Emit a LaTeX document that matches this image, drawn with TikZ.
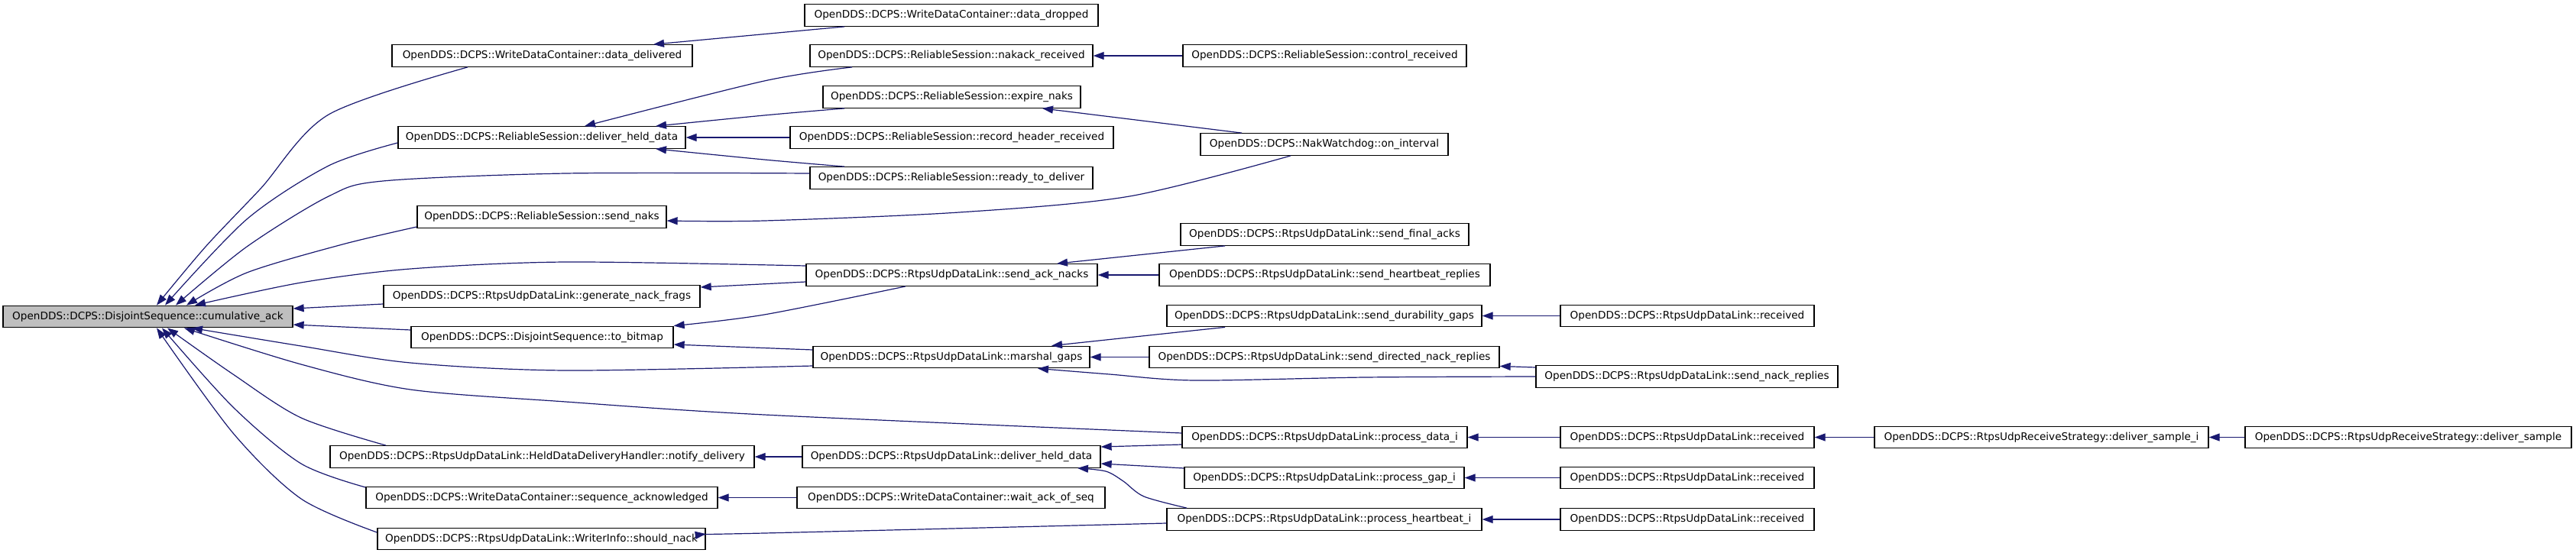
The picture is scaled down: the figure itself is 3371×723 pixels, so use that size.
\documentclass[tikz,border=0pt]{standalone}
\usepackage{fontspec}
\setmainfont{DejaVu Sans}
\usetikzlibrary{arrows.meta,calc}
\definecolor{edgeblue}{RGB}{25,25,112}
\definecolor{curgray}{RGB}{191,191,191}
\tikzset{
  box/.style={draw=black, line width=1.3pt, fill=white, minimum height=28.5pt,
    inner sep=0pt, font=\fontsize{13.6pt}{16pt}\selectfont},
  edge/.style={draw=edgeblue, line width=1.2pt, -{Triangle[length=14pt,width=10pt]}},
}
\begin{document}
\begin{tikzpicture}[x=1pt,y=-1pt]
\useasboundingbox (0,0) rectangle (3371,723);
% column 1
\node[box, fill=curgray, minimum width=379pt] (cum) at (193.5,414.5) {OpenDDS::DCPS::DisjointSequence::cumulative\_ack};
% column 2
\node[box, minimum width=393pt] (dd) at (709.5,73) {OpenDDS::DCPS::WriteDataContainer::data\_delivered};
\node[box, minimum width=376pt] (rsdhd) at (709,180) {OpenDDS::DCPS::ReliableSession::deliver\_held\_data};
\node[box, minimum width=326pt] (naks) at (709,284) {OpenDDS::DCPS::ReliableSession::send\_naks};
\node[box, minimum width=414pt] (gnf) at (709,388) {OpenDDS::DCPS::RtpsUdpDataLink::generate\_nack\_frags};
\node[box, minimum width=343pt] (tob) at (709.5,441.5) {OpenDDS::DCPS::DisjointSequence::to\_bitmap};
\node[box, minimum width=555pt] (notify) at (709.5,598) {OpenDDS::DCPS::RtpsUdpDataLink::HeldDataDeliveryHandler::notify\_delivery};
\node[box, minimum width=460pt] (seqack) at (709,651.5) {OpenDDS::DCPS::WriteDataContainer::sequence\_acknowledged};
\node[box, minimum width=429pt] (shn) at (708.5,705.5) {OpenDDS::DCPS::RtpsUdpDataLink::WriterInfo::should\_nack};
% column 3
\node[box, minimum width=384pt] (ddrop) at (1245,20) {OpenDDS::DCPS::WriteDataContainer::data\_dropped};
\node[box, minimum width=370pt] (nakack) at (1245,73) {OpenDDS::DCPS::ReliableSession::nakack\_received};
\node[box, minimum width=337pt] (expire) at (1245.5,127) {OpenDDS::DCPS::ReliableSession::expire\_naks};
\node[box, minimum width=423pt] (record) at (1245.5,180) {OpenDDS::DCPS::ReliableSession::record\_header\_received};
\node[box, minimum width=370pt] (ready) at (1245,233) {OpenDDS::DCPS::ReliableSession::ready\_to\_deliver};
\node[box, minimum width=381pt] (sack) at (1245.5,360) {OpenDDS::DCPS::RtpsUdpDataLink::send\_ack\_nacks};
\node[box, minimum width=362pt] (marshal) at (1245,467.5) {OpenDDS::DCPS::RtpsUdpDataLink::marshal\_gaps};
\node[box, minimum width=390pt] (rudhd) at (1245,598) {OpenDDS::DCPS::RtpsUdpDataLink::deliver\_held\_data};
\node[box, minimum width=403pt] (wait) at (1244.5,651.5) {OpenDDS::DCPS::WriteDataContainer::wait\_ack\_of\_seq};
% column 4
\node[box, minimum width=371pt] (control) at (1733.5,73) {OpenDDS::DCPS::ReliableSession::control\_received};
\node[box, minimum width=324pt] (oni) at (1733,189) {OpenDDS::DCPS::NakWatchdog::on\_interval};
\node[box, minimum width=377pt] (finalacks) at (1733.5,307) {OpenDDS::DCPS::RtpsUdpDataLink::send\_final\_acks};
\node[box, minimum width=433pt] (hbreplies) at (1733.5,360) {OpenDDS::DCPS::RtpsUdpDataLink::send\_heartbeat\_replies};
\node[box, minimum width=412pt] (durgaps) at (1733,413.5) {OpenDDS::DCPS::RtpsUdpDataLink::send\_durability\_gaps};
\node[box, minimum width=458pt] (dirnack) at (1733,467.5) {OpenDDS::DCPS::RtpsUdpDataLink::send\_directed\_nack\_replies};
\node[box, minimum width=373pt] (pdata) at (1733.5,572.5) {OpenDDS::DCPS::RtpsUdpDataLink::process\_data\_i};
\node[box, minimum width=366pt] (pgap) at (1733,625.5) {OpenDDS::DCPS::RtpsUdpDataLink::process\_gap\_i};
\node[box, minimum width=412pt] (phb) at (1733,680) {OpenDDS::DCPS::RtpsUdpDataLink::process\_heartbeat\_i};
% column 5
\node[box, minimum width=332pt] (recvA) at (2208,413.5) {OpenDDS::DCPS::RtpsUdpDataLink::received};
\node[box, minimum width=395pt] (snr) at (2207.5,493) {OpenDDS::DCPS::RtpsUdpDataLink::send\_nack\_replies};
\node[box, minimum width=332pt] (recvB) at (2208,572.5) {OpenDDS::DCPS::RtpsUdpDataLink::received};
\node[box, minimum width=332pt] (recvC) at (2208,625.5) {OpenDDS::DCPS::RtpsUdpDataLink::received};
\node[box, minimum width=332pt] (recvD) at (2208,680) {OpenDDS::DCPS::RtpsUdpDataLink::received};
% columns 6, 7
\node[box, minimum width=437pt] (dsi) at (2671.5,572.5) {OpenDDS::DCPS::RtpsUdpReceiveStrategy::deliver\_sample\_i};
\node[box, minimum width=427pt] (ds) at (3151.5,572.5) {OpenDDS::DCPS::RtpsUdpReceiveStrategy::deliver\_sample};

% edges into cumulative_ack
\draw[edge] plot[smooth] coordinates {([xshift=-97.5pt]dd.south) (430,150) (341,247) (269,323) ([xshift=11.5pt]cum.north)};
\draw[edge] plot[smooth] coordinates {([yshift=-7pt]rsdhd.west) (430,217) (323,287) ([xshift=22.5pt]cum.north)};
\draw[edge] plot[smooth] coordinates {([yshift=6pt]ready.west) (740,227) (501,237) (430,257) (323,323) ([xshift=36.5pt]cum.north)};
\draw[edge] plot[smooth] coordinates {([yshift=-13pt]naks.west) (448,320) (323,357) ([xshift=50.5pt]cum.north)};
\draw[edge] plot[smooth] coordinates {([yshift=12pt]sack.west) (740,343) (537,352) (394,370) ([xshift=61.5pt]cum.north)};
\draw[edge] ([yshift=-10pt]gnf.west) -- ([yshift=10.5pt]cum.east);
\draw[edge] ([yshift=9.5pt]tob.west) -- ([yshift=-10.5pt]cum.east);
\draw[edge] plot[smooth] coordinates {([yshift=-11.5pt]marshal.west) (740,485) (537,475) (394,453) ([xshift=57.5pt]cum.south)};
\draw[edge] plot[smooth] coordinates {([yshift=5.5pt]pdata.west) (1000,543) (740,526) (537,510) (394,477) ([xshift=47.5pt]cum.south)};
\draw[edge] plot[smooth] coordinates {([xshift=-204.5pt]notify.north) (394,547) (305,490) ([xshift=25.5pt]cum.south)};
\draw[edge] plot[smooth] coordinates {([yshift=13.5pt]seqack.west) (394,607) (305,533) ([xshift=18.5pt]cum.south)};
\draw[edge] plot[smooth] coordinates {([yshift=8.5pt]shn.west) (394,653) (305,567) ([xshift=11.5pt]cum.south)};

% column 3 -> column 2
\draw[edge] ([xshift=-140pt]ddrop.south) -- ([xshift=145.5pt]dd.north);
\draw[edge] plot[smooth] coordinates {([xshift=-130pt]nakack.south) (1000,106) ([xshift=56pt]rsdhd.north)};
\draw[edge] plot[smooth] coordinates {([xshift=-140.5pt]expire.south) (1000,151) ([xshift=149pt]rsdhd.north)};
\draw[edge] (record.west) -- (rsdhd.east);
\draw[edge] plot[smooth] coordinates {([xshift=-140pt]ready.north) (1000,209) ([xshift=149pt]rsdhd.south)};
\draw[edge] ([yshift=-9pt]sack.west) -- ([yshift=12pt]gnf.east);
\draw[edge] plot[smooth] coordinates {([xshift=-60.5pt]sack.south) (1000,412) (tob.north east)};
\draw[edge] ([yshift=9.5pt]marshal.west) -- ([yshift=-9.5pt]tob.east);
\draw[edge] (rudhd.west) -- (notify.east);
\draw[edge] (wait.west) -- (seqack.east);
\draw[edge] plot[smooth] coordinates {([yshift=-5pt]phb.west) (1000,698) ([yshift=6.5pt]shn.east)};

% column 4 -> column 3
\draw[edge] (control.west) -- (nakack.east);
\draw[edge] ([xshift=-108pt]oni.north) -- ([xshift=118.5pt]expire.south);
\draw[edge] plot[smooth] coordinates {([xshift=-44pt]oni.south) (1478,257) (1255,278) (1000,289) ([yshift=-5pt]naks.east)};
\draw[edge] ([xshift=-130.5pt]finalacks.south) -- ([xshift=137.5pt]sack.north);
\draw[edge] (hbreplies.west) -- (sack.east);
\draw[edge] ([xshift=-130pt]durgaps.south) -- ([xshift=131pt]marshal.north);
\draw[edge] (dirnack.west) -- (marshal.east);
\draw[edge] ([yshift=-9.5pt]pdata.west) -- ([yshift=13pt]rudhd.east);
\draw[edge] ([yshift=12.5pt]pgap.west) -- ([yshift=-9pt]rudhd.east);
\draw[edge] plot[smooth] coordinates {([xshift=-180pt]phb.north) (1497,650) (1470,630) (1447,617) ([xshift=165pt]rudhd.south)};

% column 5 -> column 4
\draw[edge] (recvA.west) -- (durgaps.east);
\draw[edge] plot[smooth] coordinates {(snr.west) (1786,494) (1563,498) (1452,490) ([xshift=113pt]marshal.south)};
\draw[edge] ([yshift=12pt]snr.west) -- ([yshift=3pt]dirnack.south east);
\draw[edge] (recvB.west) -- (pdata.east);
\draw[edge] (recvC.west) -- (pgap.east);
\draw[edge] (recvD.west) -- (phb.east);
% columns 6, 7
\draw[edge] (dsi.west) -- (recvB.east);
\draw[edge] (ds.west) -- (dsi.east);
\end{tikzpicture}
\end{document}
